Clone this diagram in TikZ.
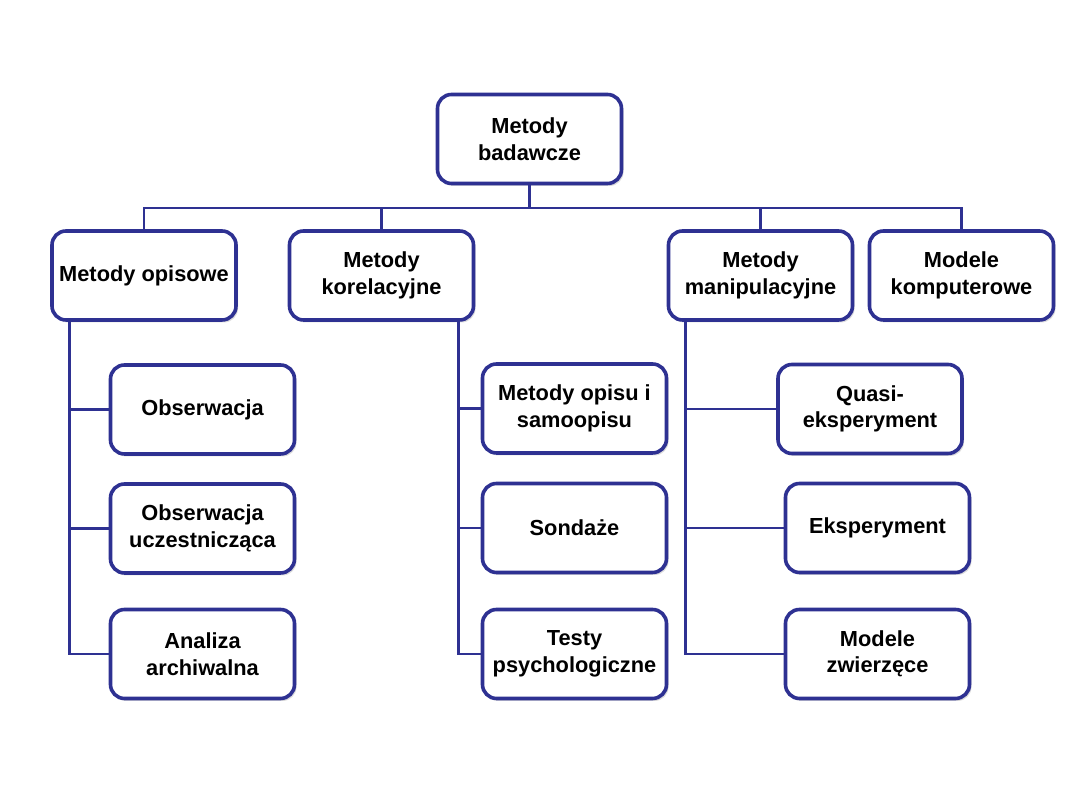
\documentclass[tikz,border=0pt]{standalone}
\usepackage{fontspec}
\setmainfont{Liberation Sans}
\usepackage{tikz}
\usetikzlibrary{positioning, shadows, calc}
\definecolor{frame}{HTML}{2E3192}

\begin{document}
\begin{tikzpicture}[
    x=1pt, y=1pt,
    font=\fontsize{21.8}{26.5}\selectfont\bfseries,
    box/.style={draw=frame, line width=3.6pt, fill=white, rounded corners=14pt, align=center, inner sep=2pt, minimum width=184pt, minimum height=89pt, drop shadow={shadow xshift=2pt, shadow yshift=-2.5pt, fill=black!30, opacity=0.45}},
    link/.style={draw=frame, line width=2.8pt},
  ]
  \useasboundingbox (0,0) rectangle (1080,810);
  % ---- top
  \node[box] (root) at (529.5,671) {Metody\\ badawcze};
  % ---- first level
  \node[box] (opis) at (144,534.5) {Metody opisowe};
  \node[box] (kor) at (381.5,534.5) {Metody\\ korelacyjne};
  \node[box] (manip) at (760.5,534.5) {Metody\\ manipulacyjne};
  \node[box] (komp) at (961.5,534.5) {Modele\\ komputerowe};
  % ---- second level
  \node[box] (obs) at (202.5,400.5) {Obserwacja};
  \node[box] (obsu) at (202.5,281.5) {Obserwacja\\ uczestnicząca};
  \node[box] (arch) at (202.5,156) {Analiza\\ archiwalna};
  \node[box] (samo) at (574.5,401.5) {Metody opisu i\\ samoopisu};
  \node[box] (sond) at (574.5,282) {Sondaże};
  \node[box] (test) at (574.5,156) {Testy\\ psychologiczne};
  \node[box] (quasi) at (870,401) {Quasi-\\ eksperyment};
  \node[box] (eksp) at (877.5,282) {Eksperyment};
  \node[box] (zwie) at (877.5,156) {Modele\\ zwierzęce};
  % ---- connectors
  \coordinate (bus) at (0,602);
  \draw[link] (root.south) -- (root.south |- bus);
  \draw[link] (opis.north) -- (opis.north |- bus) -- (komp.north |- bus) -- (komp.north);
  \draw[link] (kor.north) -- (kor.north |- bus);
  \draw[link] (manip.north) -- (manip.north |- bus);
  \coordinate (opisrail) at ([xshift=19pt]opis.south west);
  \coordinate (korrail) at ([xshift=-17pt]kor.south east);
  \coordinate (maniprail) at ([xshift=19pt]manip.south west);
  \draw[link] (opisrail) |- (arch.west);
  \draw[link] (opisrail |- obs.west) -- (obs.west);
  \draw[link] (opisrail |- obsu.west) -- (obsu.west);
  \draw[link] (korrail) |- (test.west);
  \draw[link] (korrail |- samo.west) -- (samo.west);
  \draw[link] (korrail |- sond.west) -- (sond.west);
  \draw[link] (maniprail) |- (zwie.west);
  \draw[link] (maniprail |- quasi.west) -- (quasi.west);
  \draw[link] (maniprail |- eksp.west) -- (eksp.west);
\end{tikzpicture}
\end{document}
